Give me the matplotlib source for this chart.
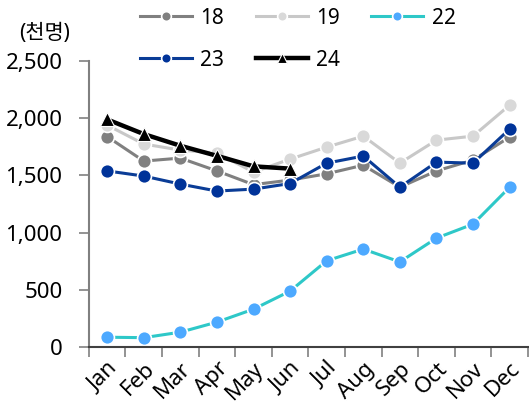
import matplotlib
matplotlib.use("Agg")
import matplotlib.pyplot as plt
from matplotlib.ticker import FuncFormatter, FixedLocator

plt.rcParams['font.family'] = ['Noto Sans', 'Noto Sans CJK KR', 'DejaVu Sans']

months = ['Jan', 'Feb', 'Mar', 'Apr', 'May', 'Jun',
          'Jul', 'Aug', 'Sep', 'Oct', 'Nov', 'Dec']
y18 = [1840, 1626, 1652, 1540, 1420, 1460, 1515, 1590, 1398, 1540, 1635, 1836]
y19 = [1940, 1775, 1722, 1696, 1530, 1643, 1748, 1844, 1608, 1809, 1844, 2115]
y22 = [87, 83, 131, 219, 332, 490, 755, 857, 745, 953, 1075, 1398]
y23 = [1540, 1495, 1425, 1364, 1381, 1430, 1608, 1670, 1398, 1617, 1608, 1906]
y24 = [1990, 1862, 1760, 1672, 1580, 1560]

fig = plt.figure(figsize=(5.29, 4.07), dpi=100)
ax = fig.add_axes([0.168, 0.147, 0.830, 0.703])

x = list(range(12))
mk = dict(markersize=10, markeredgecolor='white', markeredgewidth=1.2)
l18, = ax.plot(x, y18, '-o', color='#808080', lw=2.2, label='18', **mk)
l19, = ax.plot(x, y19, '-o', color='#c8c8c8', mfc='#d9d9d9', lw=2.2, label='19', **mk)
l22, = ax.plot(x, y22, '-o', color='#2ec8c8', mfc='#4da9ff', lw=2.2, label='22', **mk)
l23, = ax.plot(x, y23, '-o', color='#0a3c96', mfc='#003399', lw=2.2, label='23', **mk)
l24, = ax.plot(x[:6], y24, '-^', color='black', lw=3.2, label='24',
               markersize=10, markeredgecolor='white', markeredgewidth=0.8)

ax.set_xlim(-0.5, 11.5)
ax.set_ylim(0, 2500)
ax.set_yticks([0, 500, 1000, 1500, 2000, 2500])
ax.yaxis.set_major_formatter(FuncFormatter(lambda v, p: f'{int(v):,}'))
ax.set_xticks(x)
ax.set_xticklabels(months, rotation=45, ha='right', rotation_mode='anchor')
ax.xaxis.set_minor_locator(FixedLocator([i - 0.5 for i in range(13)]))
ax.tick_params(axis='x', which='major', length=0, labelsize=16, pad=8)
ax.tick_params(axis='x', which='minor', length=7, color='#808080', width=1.2)
ax.tick_params(axis='y', length=7, color='#808080', width=1.2, labelsize=16, pad=12)

for s in ['top', 'right']:
    ax.spines[s].set_visible(False)
ax.spines['left'].set_color('#808080')
ax.spines['left'].set_linewidth(1.5)
ax.spines['bottom'].set_color('#404040')
ax.spines['bottom'].set_linewidth(1.5)

fig.text(0.036, 0.918, '(천명)', fontsize=15, va='center')

handles = [l18, l23, l19, l24, l22]
fig.legend(handles, [h.get_label() for h in handles], ncol=3, frameon=False,
           loc='upper left', bbox_to_anchor=(0.229, 1.027), fontsize=15,
           handlelength=2.5, columnspacing=1.5, handletextpad=0.4,
           labelspacing=1.0, markerscale=0.7)

fig.savefig('out.png', dpi=100)
